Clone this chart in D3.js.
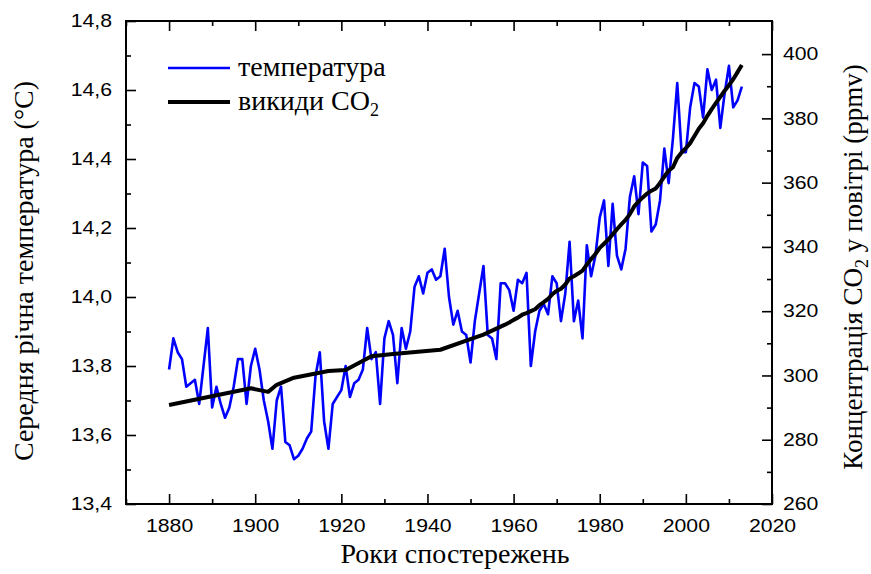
<!DOCTYPE html>
<html>
<head>
<meta charset="utf-8">
<script src="https://cdn.jsdelivr.net/npm/d3@7"></script>
<style>
  body { margin: 0; background: #fff; }
  svg text { fill: #000; }
</style>
</head>
<body>
<svg id="chart" width="871" height="574"></svg>
<script>
// Annual mean temperature, 1880–2013 (°C)
const tempStart = 1880;
const tempValues = [
  13.79, 13.88, 13.84, 13.82, 13.74, 13.75, 13.76, 13.69, 13.80, 13.91, // 1880s
  13.68, 13.74, 13.69, 13.65, 13.68, 13.74, 13.82, 13.82, 13.69, 13.80, // 1890s
  13.85, 13.79, 13.70, 13.64, 13.56, 13.70, 13.74, 13.58, 13.57, 13.53, // 1900s
  13.54, 13.56, 13.59, 13.61, 13.77, 13.84, 13.64, 13.56, 13.69, 13.71, // 1910s
  13.73, 13.80, 13.71, 13.75, 13.76, 13.79, 13.91, 13.82, 13.84, 13.69, // 1920s
  13.88, 13.93, 13.89, 13.75, 13.91, 13.85, 13.90, 14.03, 14.06, 14.01, // 1930s
  14.07, 14.08, 14.05, 14.06, 14.14, 14.00, 13.92, 13.96, 13.90, 13.89, // 1940s
  13.81, 13.93, 14.01, 14.09, 13.89, 13.88, 13.82, 14.04, 14.04, 14.02, // 1950s
  13.96, 14.05, 14.04, 14.07, 13.80, 13.90, 13.96, 13.98, 13.95, 14.06, // 1960s
  14.04, 13.93, 14.01, 14.16, 13.93, 13.99, 13.88, 14.15, 14.06, 14.12, // 1970s
  14.23, 14.28, 14.09, 14.27, 14.12, 14.08, 14.14, 14.29, 14.35, 14.24, // 1980s
  14.39, 14.38, 14.19, 14.21, 14.28, 14.43, 14.33, 14.46, 14.62, 14.42, // 1990s
  14.42, 14.55, 14.62, 14.61, 14.52, 14.66, 14.60, 14.63, 14.49, 14.59, // 2000s
  14.67, 14.55, 14.57, 14.61                                            // 2010s
];
const tempYears = d3.range(tempStart, tempStart + tempValues.length);

// Atmospheric CO2 concentration (ppmv)
const co2Years = [
  1880, 1899, 1903, 1905, 1909, 1917, 1921, 1927, 1932, 1943, 1950, 1953, 1958,
  1959, 1960, 1961, 1962, 1963, 1964, 1965, 1966, 1967, 1968, 1969,
  1970, 1971, 1972, 1973, 1974, 1975, 1976, 1977, 1978, 1979,
  1980, 1981, 1982, 1983, 1984, 1985, 1986, 1987, 1988, 1989,
  1990, 1991, 1992, 1993, 1994, 1995, 1996, 1997, 1998, 1999,
  2000, 2001, 2002, 2003, 2004, 2005, 2006, 2007, 2008, 2009,
  2010, 2011, 2012, 2013
];
const co2Values = [
  290.8, 296.0, 294.9, 297.1, 299.3, 301.4, 301.7, 306.0, 306.7, 308.0, 311.3, 312.7, 315.8,
  316.5, 317.3, 318.0, 318.9, 319.4, 320.0, 320.6, 321.9, 322.8, 323.8, 325.3,
  326.3, 327.0, 328.3, 330.2, 330.9, 331.7, 332.6, 334.5, 336.2, 337.8,
  339.7, 341.0, 342.3, 343.9, 345.5, 347.0, 348.4, 350.2, 352.6, 354.1,
  355.4, 356.6, 357.5, 358.2, 359.9, 361.9, 363.7, 364.8, 367.7, 369.4,
  370.7, 372.3, 374.5, 376.8, 378.5, 380.8, 382.9, 384.8, 386.7, 388.6,
  390.3, 392.2, 394.4, 396.6
];

// Axis ticks
const yearTicks = [1880, 1900, 1920, 1940, 1960, 1980, 2000, 2020];
const yearMinorTicks = [1870, 1890, 1910, 1930, 1950, 1970, 1990, 2010];
const tempTicks = [13.4, 13.6, 13.8, 14.0, 14.2, 14.4, 14.6, 14.8];
const tempMinorTicks = [13.5, 13.7, 13.9, 14.1, 14.3, 14.5, 14.7];
const co2Ticks = [260, 280, 300, 320, 340, 360, 380, 400];
const co2MinorTicks = [270, 290, 310, 330, 350, 370, 390];

const svg = d3.select("#chart");
const L = 126, R = 772, T = 21, B = 504;

const x = d3.scaleLinear().domain([1870, 2020]).range([L, R]);
const yT = d3.scaleLinear().domain([13.4, 14.8]).range([B, T]);
const yC = d3.scaleLinear().domain([260, 410.3]).range([B, T]);

const comma = d => d.toFixed(1).replace(".", ",");
const sans = "'Liberation Sans', Arial, sans-serif";
const serif = "'Liberation Serif', 'Times New Roman', serif";
const stretch = 1.18;
const tickFont = 18;

function styleAxis(g) {
  g.select(".domain").remove();
  g.selectAll(".tick line").attr("stroke", "#000").attr("stroke-width", 1.6);
  g.selectAll("text").attr("font-family", sans).attr("font-size", tickFont);
}

// Bottom axis (ticks point inward)
const gx = svg.append("g").attr("transform", `translate(0,${B})`)
  .call(d3.axisBottom(x).tickValues(yearTicks).tickFormat(d3.format("d"))
    .tickSizeInner(-10).tickSizeOuter(0).tickPadding(15));
styleAxis(gx);
gx.selectAll("text").attr("transform", `scale(${stretch},1)`)
  .attr("x", 0).attr("dy", "0.71em");
svg.append("g").attr("transform", `translate(0,${B})`)
  .call(d3.axisBottom(x).tickValues(yearMinorTicks).tickFormat("").tickSizeInner(-5).tickSizeOuter(0))
  .call(styleAxis);

// Top axis mirror
svg.append("g").attr("transform", `translate(0,${T})`)
  .call(d3.axisTop(x).tickValues(yearTicks).tickFormat("").tickSizeInner(-10).tickSizeOuter(0))
  .call(styleAxis);
svg.append("g").attr("transform", `translate(0,${T})`)
  .call(d3.axisTop(x).tickValues(yearMinorTicks).tickFormat("").tickSizeInner(-5).tickSizeOuter(0))
  .call(styleAxis);

// Left axis: temperature
const gyl = svg.append("g").attr("transform", `translate(${L},0)`)
  .call(d3.axisLeft(yT).tickValues(tempTicks).tickFormat(comma)
    .tickSizeInner(-10).tickSizeOuter(0).tickPadding(14));
styleAxis(gyl);
gyl.selectAll("text").attr("transform", `scale(${stretch},1)`).attr("x", -14 / stretch);
svg.append("g").attr("transform", `translate(${L},0)`)
  .call(d3.axisLeft(yT).tickValues(tempMinorTicks).tickFormat("").tickSizeInner(-5).tickSizeOuter(0))
  .call(styleAxis);

// Right axis: CO2
const gyr = svg.append("g").attr("transform", `translate(${R},0)`)
  .call(d3.axisRight(yC).tickValues(co2Ticks).tickFormat(d3.format("d"))
    .tickSizeInner(-10).tickSizeOuter(0).tickPadding(11));
styleAxis(gyr);
gyr.selectAll("text").attr("transform", `scale(${stretch},1)`).attr("x", 11 / stretch);
svg.append("g").attr("transform", `translate(${R},0)`)
  .call(d3.axisRight(yC).tickValues(co2MinorTicks).tickFormat("").tickSizeInner(-5).tickSizeOuter(0))
  .call(styleAxis);

// Frame
svg.append("rect").attr("x", L).attr("y", T).attr("width", R - L).attr("height", B - T)
  .attr("fill", "none").attr("stroke", "#000").attr("stroke-width", 2);

// Temperature line
const tempLine = d3.line().x((d, i) => x(tempYears[i])).y(d => yT(d));
svg.append("path").datum(tempValues)
  .attr("d", tempLine)
  .attr("fill", "none").attr("stroke", "#0000ff").attr("stroke-width", 2.6)
  .attr("stroke-linejoin", "round");

// CO2 line
const co2Line = d3.line().x((d, i) => x(co2Years[i])).y(d => yC(d));
svg.append("path").datum(co2Values)
  .attr("d", co2Line)
  .attr("fill", "none").attr("stroke", "#000").attr("stroke-width", 4)
  .attr("stroke-linejoin", "round");

// Legend
const legend = svg.append("g");
legend.append("line").attr("x1", 168).attr("x2", 230).attr("y1", 68).attr("y2", 68)
  .attr("stroke", "#0000ff").attr("stroke-width", 2.6);
legend.append("text").attr("x", 238).attr("y", 76)
  .attr("font-family", serif).attr("font-size", 28).text("температура");
legend.append("line").attr("x1", 168).attr("x2", 230).attr("y1", 102).attr("y2", 102)
  .attr("stroke", "#000").attr("stroke-width", 4);
const co2Label = legend.append("text").attr("x", 238).attr("y", 110)
  .attr("font-family", serif).attr("font-size", 28);
co2Label.append("tspan").text("викиди CO");
co2Label.append("tspan").attr("font-size", 18).attr("dy", 6).text("2");

// Axis titles
svg.append("text").attr("x", 455).attr("y", 563).attr("text-anchor", "middle")
  .attr("font-family", serif).attr("font-size", 28).text("Роки спостережень");

svg.append("text").attr("transform", "translate(33,271) rotate(-90)")
  .attr("text-anchor", "middle").attr("font-family", serif).attr("font-size", 28)
  .text("Середня річна температура (°C)");

const rTitle = svg.append("text").attr("transform", "translate(862,267) rotate(-90)")
  .attr("text-anchor", "middle").attr("font-family", serif).attr("font-size", 27);
rTitle.append("tspan").text("Концентрація CO");
rTitle.append("tspan").attr("font-size", 18).attr("dy", 6).text("2");
rTitle.append("tspan").attr("dy", -6).text(" у повітрі (ppmv)");
</script>
</body>
</html>
